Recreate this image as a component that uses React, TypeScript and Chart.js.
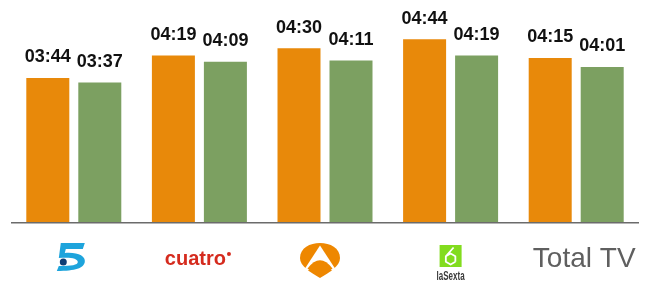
import React, { useEffect, useRef } from "react";
import { Chart, registerables } from "chart.js";

Chart.register(...registerables);

const channels = ["Telecinco", "Cuatro", "Antena 3", "laSexta", "Total TV"];
const orangeTimes = ["03:44", "04:19", "04:30", "04:44", "04:15"];
const greenTimes = ["03:37", "04:09", "04:11", "04:19", "04:01"];
const yMaxSeconds = 300;

const ORANGE = "#E8890A";
const GREEN = "#7CA061";
const FONT = "'Liberation Sans', Arial, sans-serif";

const toSec = (t: string) => {
  const [m, s] = t.split(":").map(Number);
  return m * 60 + s;
};

function drawTelecinco(ctx: CanvasRenderingContext2D, cx: number) {
  const dx = cx - 71;
  ctx.save();
  ctx.translate(dx, 0);
  ctx.fillStyle = "#1EA4DC";
  ctx.beginPath();
  ctx.moveTo(61, 243);
  ctx.lineTo(85, 243);
  ctx.lineTo(83, 249);
  ctx.lineTo(66, 249);
  ctx.lineTo(65, 253);
  ctx.bezierCurveTo(78, 252, 86, 256, 85, 262);
  ctx.bezierCurveTo(84, 268, 76, 271, 57, 271);
  ctx.lineTo(59, 266);
  ctx.bezierCurveTo(72, 266, 78, 265, 78, 262);
  ctx.bezierCurveTo(78, 258, 70, 257, 59, 258);
  ctx.closePath();
  ctx.fill();
  ctx.fillStyle = "#0E3D74";
  ctx.beginPath();
  ctx.arc(63.5, 262, 3.5, 0, Math.PI * 2);
  ctx.fill();
  ctx.restore();
}

function drawCuatro(ctx: CanvasRenderingContext2D, cx: number) {
  ctx.save();
  ctx.fillStyle = "#D52B1E";
  ctx.font = `bold 20px ${FONT}`;
  ctx.textAlign = "center";
  ctx.textBaseline = "alphabetic";
  ctx.fillText("cuatro", cx, 265);
  const w = ctx.measureText("cuatro").width;
  ctx.beginPath();
  ctx.arc(cx + w / 2 + 3, 254, 2, 0, Math.PI * 2);
  ctx.fill();
  ctx.restore();
}

function drawAntena(ctx: CanvasRenderingContext2D, cx: number) {
  ctx.save();
  ctx.translate(cx - 320, 0);
  ctx.fillStyle = "#EE8700";
  ctx.beginPath();
  ctx.moveTo(320, 278);
  ctx.bezierCurveTo(310, 272, 300, 266, 300, 258);
  ctx.bezierCurveTo(300, 248, 310, 243, 320, 243);
  ctx.bezierCurveTo(330, 243, 340, 248, 340, 258);
  ctx.bezierCurveTo(340, 266, 330, 272, 320, 278);
  ctx.closePath();
  ctx.fill();
  ctx.fillStyle = "#ffffff";
  ctx.beginPath();
  ctx.moveTo(320, 245.5);
  ctx.lineTo(304, 270);
  ctx.lineTo(336, 270);
  ctx.closePath();
  ctx.fill();
  ctx.fillStyle = "#EE8700";
  ctx.beginPath();
  ctx.moveTo(307.5, 268.5);
  ctx.quadraticCurveTo(320, 252, 332.5, 268.5);
  ctx.quadraticCurveTo(327, 273.5, 320, 277);
  ctx.quadraticCurveTo(313, 273.5, 307.5, 268.5);
  ctx.closePath();
  ctx.fill();
  ctx.restore();
}

function drawLaSexta(ctx: CanvasRenderingContext2D, cx: number) {
  ctx.save();
  const x0 = cx - 11;
  ctx.fillStyle = "#82DC1E";
  ctx.fillRect(x0, 245, 22, 22);
  ctx.strokeStyle = "#ffffff";
  ctx.lineWidth = 1.8;
  ctx.lineJoin = "round";
  const hx = cx, hy = 259, r = 5.5;
  ctx.beginPath();
  for (let k = 0; k <= 6; k++) {
    const a = Math.PI / 6 + (k * Math.PI) / 3;
    const px = hx + r * Math.cos(a);
    const py = hy + r * Math.sin(a);
    if (k === 0) ctx.moveTo(px, py);
    else ctx.lineTo(px, py);
  }
  ctx.moveTo(hx - r * Math.cos(Math.PI / 6), hy - r * Math.sin(Math.PI / 6));
  ctx.lineTo(cx + 3, 247.5);
  ctx.stroke();
  ctx.fillStyle = "#3A3A3A";
  ctx.font = `bold 12px ${FONT}`;
  ctx.textAlign = "center";
  ctx.fillText("laSexta", cx, 280, 28);
  ctx.restore();
}

function drawTotal(ctx: CanvasRenderingContext2D, cx: number) {
  ctx.save();
  ctx.fillStyle = "#5F5F5F";
  ctx.font = `28px ${FONT}`;
  ctx.textAlign = "center";
  ctx.fillText("Total TV", cx, 267);
  ctx.restore();
}

const customDraw = {
  id: "customDraw",
  afterDatasetsDraw(chart: any) {
    const ctx: CanvasRenderingContext2D = chart.ctx;
    const area = chart.chartArea;
    ctx.save();
    ctx.fillStyle = "#6B6B6B";
    ctx.fillRect(area.left, area.bottom, area.right - area.left, 1.5);
    ctx.fillStyle = "#111111";
    ctx.font = `bold 18px ${FONT}`;
    ctx.textAlign = "center";
    ctx.textBaseline = "alphabetic";
    const labelSets = [orangeTimes, greenTimes];
    chart.data.datasets.forEach((_: any, di: number) => {
      const meta = chart.getDatasetMeta(di);
      meta.data.forEach((el: any, i: number) => {
        ctx.fillText(labelSets[di][i], el.x, el.y - 15.5);
      });
    });
    ctx.restore();
    const xs = chart.scales.x;
    const c = (i: number) => xs.getPixelForValue(i);
    drawTelecinco(ctx, c(0) - 3);
    drawCuatro(ctx, c(1) - 4);
    drawAntena(ctx, c(2) - 5);
    drawLaSexta(ctx, c(3));
    drawTotal(ctx, c(4) + 8);
  },
};

export default function App() {
  const ref = useRef<HTMLCanvasElement | null>(null);
  useEffect(() => {
    document.body.style.margin = "0";
    if (!ref.current) return;
    const chart = new Chart(ref.current, {
      type: "bar",
      data: {
        labels: channels,
        datasets: [
          {
            label: "A",
            data: orangeTimes.map(toSec),
            backgroundColor: ORANGE,
            barPercentage: 0.827,
            categoryPercentage: 0.828,
          },
          {
            label: "B",
            data: greenTimes.map(toSec),
            backgroundColor: GREEN,
            barPercentage: 0.827,
            categoryPercentage: 0.828,
          },
        ],
      },
      options: {
        responsive: false,
        animation: false,
        devicePixelRatio: 1,
        layout: { padding: { left: 11, right: 8, top: 29, bottom: 73 } },
        plugins: {
          legend: { display: false },
          tooltip: { enabled: false },
        },
        scales: {
          x: { display: false, offset: true },
          y: { display: false, min: 0, max: yMaxSeconds },
        },
      },
      plugins: [customDraw],
    });
    return () => chart.destroy();
  }, []);
  return (
    <div style={{ position: "fixed", left: 0, top: 0, width: 647, height: 295, background: "#fff" }}>
      <canvas ref={ref} width={647} height={295} style={{ display: "block" }} />
    </div>
  );
}
